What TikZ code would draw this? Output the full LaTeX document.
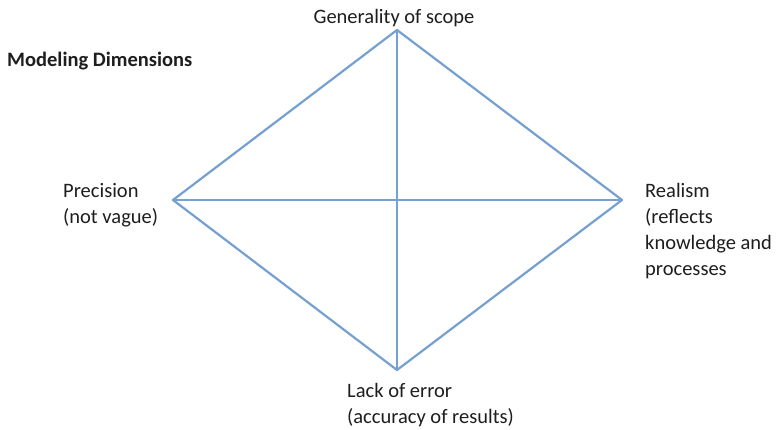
\documentclass[tikz,border=0pt]{standalone}
\usepackage{fontspec}
\setmainfont{Carlito}
\definecolor{edgeblue}{RGB}{118,160,208}
\definecolor{txt}{RGB}{30,30,30}
\begin{document}
\begin{tikzpicture}[x=1pt,y=-1pt,
  edge/.style={draw=edgeblue,line width=2.2pt,line cap=round,line join=round},
  lbl/.style={inner sep=0pt,text=txt,font=\fontsize{20.5}{26}\selectfont,align=left}]
\useasboundingbox[fill=white] (0,0) rectangle (778,430);
\coordinate (T) at (397,30);
\coordinate (B) at (397,370);
\coordinate (L) at (173,200);
\coordinate (R) at (622,200);
\draw[edge] (T) -- (R) -- (B) -- (L) -- cycle;
\draw[edge] (T) -- (B);
\draw[edge] (L) -- (R);
\node[lbl,anchor=north] (gen) at (394,9) {Generality of scope};
\node[lbl,anchor=north west,font=\bfseries\fontsize{20.5}{26}\selectfont] (title) at (7,52) {Modeling Dimensions};
\node[lbl,anchor=north west] (prec) at (63,183) {Precision\\(not vague)};
\node[lbl,anchor=north west] (real) at (645,183) {Realism\\(reflects\\knowledge and\\processes};
\node[lbl,anchor=north west] (lack) at (347,383) {Lack of error\\(accuracy of results)};
\end{tikzpicture}
\end{document}
